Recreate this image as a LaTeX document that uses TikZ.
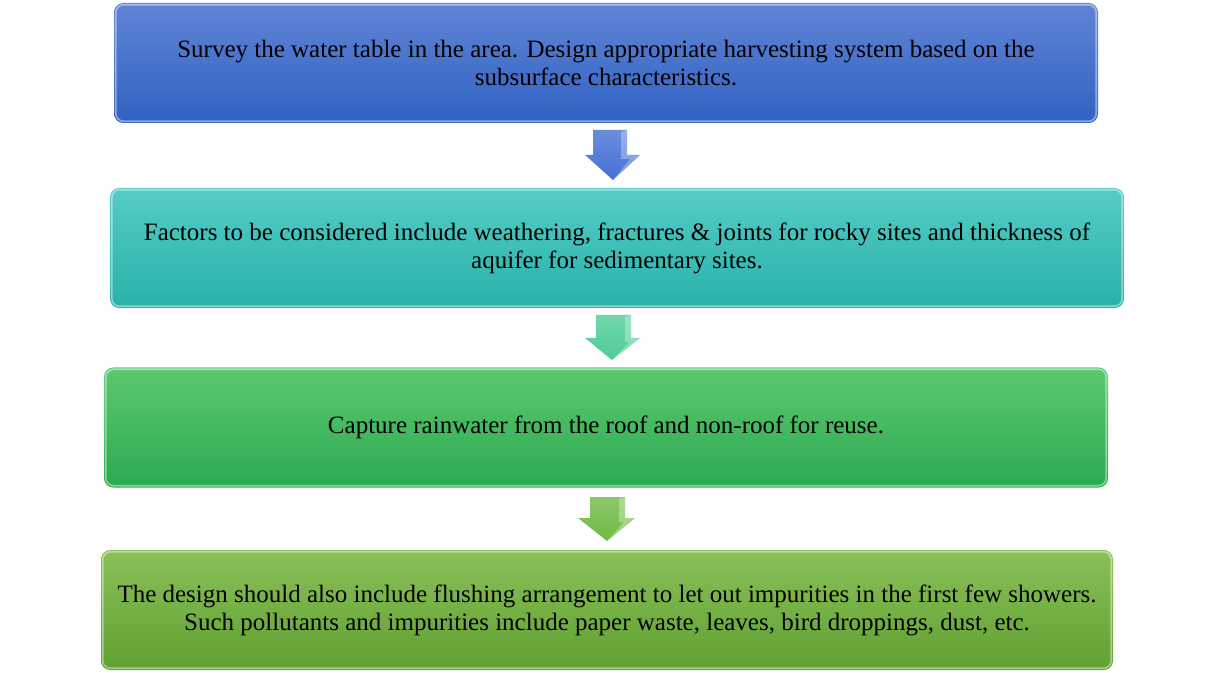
\documentclass[tikz,border=0pt]{standalone}
\usepackage{fontspec}
\setmainfont{Liberation Serif}
\definecolor{bAt}{RGB}{96,132,214}
\definecolor{bAb}{RGB}{48,98,194}
\definecolor{bBt}{RGB}{84,204,198}
\definecolor{bBb}{RGB}{40,178,170}
\definecolor{bCt}{RGB}{92,200,112}
\definecolor{bCb}{RGB}{44,170,80}
\definecolor{bDt}{RGB}{138,192,88}
\definecolor{bDb}{RGB}{96,160,50}
\definecolor{aA}{RGB}{70,112,214}
\definecolor{aB}{RGB}{78,204,150}
\definecolor{aC}{RGB}{112,186,68}
\tikzset{
  stepbox/.style={rounded corners=7pt, align=center, inner sep=0pt,
    font=\fontsize{18.75}{21}\selectfont, text=black, minimum height=90pt},
  rim/.style={line width=1.2pt, draw=white, draw opacity=0.45, rounded corners=6pt},
}
\begin{document}
\begin{tikzpicture}[x=0.75pt,y=-0.75pt]
\useasboundingbox (0,0) rectangle (1213,673);
% boxes
\node[stepbox, top color=bAt, bottom color=bAb, minimum width=738pt] (b1) at (606,63)
  {Survey the water table in the area. Design appropriate harvesting system based on the\\subsurface characteristics.};
\node[stepbox, top color=bBt, bottom color=bBb, minimum width=760.5pt] (b2) at (617,248)
  {Factors to be considered include weathering, fractures \& joints for rocky sites and thickness of\\aquifer for sedimentary sites.};
\node[stepbox, top color=bCt, bottom color=bCb, minimum width=753pt] (b3) at (606,427.5)
  {Capture rainwater from the roof and non-roof for reuse.};
\node[stepbox, top color=bDt, bottom color=bDb, minimum width=759pt] (b4) at (607,610)
  {The design should also include flushing arrangement to let out impurities in the first few showers.\\Such pollutants and impurities include paper waste, leaves, bird droppings, dust, etc.};
% highlight rims
\foreach \b in {b1,b2,b3,b4}{
  \draw[rim] ([shift={(2,2)}]\b.north west) rectangle ([shift={(-2,-2)}]\b.south east);
}
% arrows
\shade[top color=aA!80!white, bottom color=aA] (593,130) -- (627,130) -- (627,155) -- (640,155)
  -- (613,180) -- (585,155) -- (593,155) -- cycle;
\fill[white, opacity=0.3] (621,132) -- (627,130) -- (627,155) -- (640,155) -- (613,180) -- (630,159) -- (621,159) -- cycle;
\shade[top color=aB!80!white, bottom color=aB] (596,315) -- (631,315) -- (631,338) -- (640,338)
  -- (612,360) -- (585,338) -- (596,338) -- cycle;
\fill[white, opacity=0.3] (625,317) -- (631,315) -- (631,338) -- (640,338) -- (612,360) -- (629,342) -- (625,342) -- cycle;
\shade[top color=aC!80!white, bottom color=aC] (590,497) -- (625,497) -- (625,518) -- (635,518)
  -- (607,541) -- (578,518) -- (590,518) -- cycle;
\fill[white, opacity=0.3] (619,499) -- (625,497) -- (625,518) -- (635,518) -- (607,541) -- (624,522) -- (619,522) -- cycle;
\end{tikzpicture}
\end{document}
